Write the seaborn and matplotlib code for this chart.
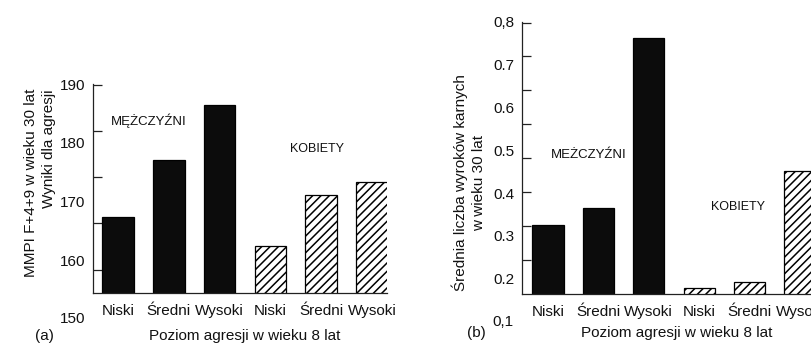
import numpy as np
import pandas as pd
import matplotlib
matplotlib.use("Agg")
import matplotlib.pyplot as plt
from matplotlib.ticker import FixedLocator
import seaborn as sns

# ---- data ----
poziomy = ["Niski", "Średni", "Wysoki"]
grupy = ["MĘŻCZYŹNI", "KOBIETY"]
mmpi_m = [167.4, 177.0, 186.4]
mmpi_k = [162.5, 171.1, 173.3]
wyroki_m = [0.325, 0.366, 0.761]
wyroki_k = [0.178, 0.193, 0.451]

ticks_a = [190, 180, 170, 160]
ticklabels_a = ["190", "180", "170", "160"]
ticks_b = [0.8, 0.7, 0.6, 0.5, 0.4, 0.3, 0.2]
ticklabels_b = ["0,8", "0.7", "0.6", "0.5", "0.4", "0.3", "0.2"]

sns.set_theme(style="white")
plt.rcParams["font.family"] = ["Liberation Sans", "DejaVu Sans"]
plt.rcParams["hatch.linewidth"] = 1.1
plt.rcParams["axes.linewidth"] = 0.9

W, H = 811, 344
fig = plt.figure(figsize=(W / 100, H / 100), dpi=100)
fig.patch.set_facecolor("white")


def make_df(vals_m, vals_k):
    keys = [f"M {p}" for p in poziomy] + [f"K {p}" for p in poziomy]
    plec = ["M"] * 3 + ["K"] * 3
    return pd.DataFrame({"klucz": keys, "plec": plec, "wartosc": list(vals_m) + list(vals_k)})


def draw(ax, df, ylim, xlim, ticks, ticklabels, minor, extra_label, extra_val,
         extra_x):
    sns.barplot(data=df, x="klucz", y="wartosc", hue="plec",
                palette={"M": "#0c0c0c", "K": "white"}, order=list(df["klucz"]),
                hue_order=["M", "K"], width=0.62, errorbar=None, legend=False,
                edgecolor="black", linewidth=0.9, ax=ax, dodge=False)
    for patch in ax.patches:
        fc = patch.get_facecolor()
        if fc[0] > 0.5:
            patch.set_hatch("////")
            patch.set_edgecolor("black")
    ax.set_xlim(*xlim)
    ax.set_ylim(*ylim)
    ax.set_xticks(range(6))
    ax.set_xticklabels(poziomy * 2, fontsize=11, color="#111111")
    ax.set_yticks(ticks)
    ax.set_yticklabels(ticklabels, fontsize=11, color="#111111")
    ax.yaxis.set_minor_locator(FixedLocator(minor))
    ax.tick_params(axis="y", which="major", length=0, pad=5.5)
    ax.tick_params(axis="y", which="minor", direction="in", length=6.5,
                   width=0.9, color="#222222", left=True)
    ax.tick_params(axis="x", which="both", length=0, pad=8)
    ax.set_xlabel("")
    ax.set_ylabel("")
    for s in ["top", "right"]:
        ax.spines[s].set_visible(False)
    for s in ["left", "bottom"]:
        ax.spines[s].set_color("#222222")
    ax.text(extra_x, extra_val, extra_label, transform=ax.get_yaxis_transform(),
            ha="right", va="center", fontsize=11, color="#111111", clip_on=False)


# ---- panel (a) ----
axa = fig.add_axes([92.7 / W, (H - 292.7) / H, (387 - 92.7) / W, (292.7 - 84) / H])
draw(axa, make_df(mmpi_m, mmpi_k), (154.5, 189.9), (-0.498, 5.295),
     ticks_a, ticklabels_a, list(np.linspace(189.9, 158.4, 5)), "150", 150, -0.026)

# ---- panel (b) ----
axb = fig.add_axes([521.7 / W, (H - 294) / H, (815.6 - 521.7) / W, (294 - 21.7) / H])
draw(axb, make_df(wyroki_m, wyroki_k), (0.1644, 0.798), (-0.522, 5.31),
     ticks_b, ticklabels_b, list(np.linspace(0.798, 0.2435, 8)), "0,1", 0.1, -0.028)

# group annotations
def ftext(x, y, s, **kw):
    fig.text(x / W, (H - y) / H, s, **kw)

ftext(148.3, 120.7, grupy[0], ha="center", va="center", fontsize=9.5, color="#111111")
ftext(316.7, 149.3, grupy[1], ha="center", va="center", fontsize=9, color="#111111")
ftext(588.3, 155.0, "MEŻCZYŹNI", ha="center", va="center", fontsize=9.5, color="#111111")
ftext(738.3, 206.7, grupy[1], ha="center", va="center", fontsize=9, color="#111111")

# axis labels
ftext(40, 183.3, "MMPI F+4+9 w wieku 30 lat\nWyniki dla agresji", rotation=90,
      ha="center", va="center", multialignment="right", linespacing=1.3,
      fontsize=11, color="#111111")
ftext(469, 183.0, "Średnia liczba wyroków karnych\nw wieku 30 lat", rotation=90,
      ha="center", va="center", multialignment="center", linespacing=1.4,
      fontsize=11, color="#111111")
ftext(245, 336, "Poziom agresji w wieku 8 lat", ha="center", va="center",
      fontsize=11, color="#111111")
ftext(676.7, 333.3, "Poziom agresji w wieku 8 lat", ha="center", va="center",
      fontsize=11, color="#111111")
ftext(44, 336, "(a)", ha="center", va="center", fontsize=11, color="#111111")
ftext(476.7, 333.3, "(b)", ha="center", va="center", fontsize=11, color="#111111")

fig.savefig("out.png", dpi=100, facecolor="white")
